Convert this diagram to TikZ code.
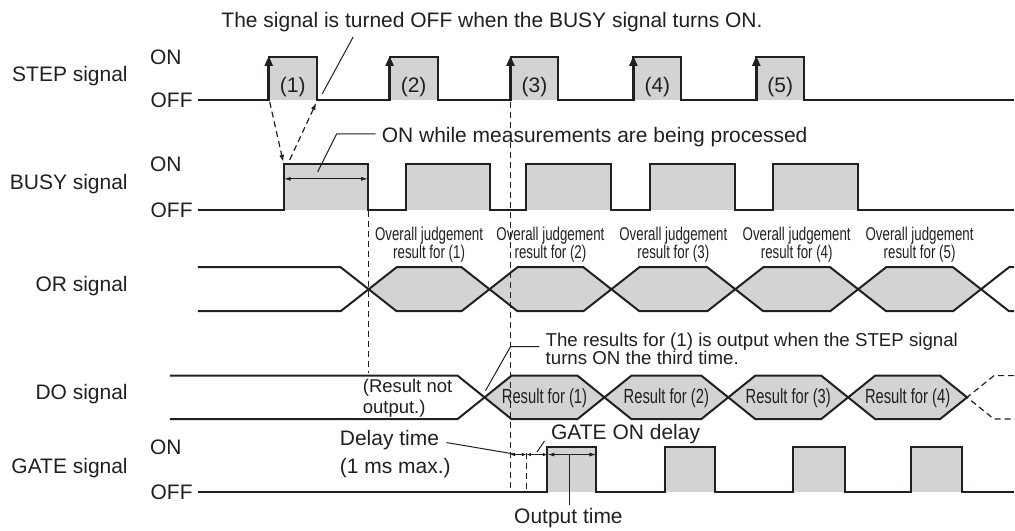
\documentclass[tikz,border=0pt]{standalone}
\usepackage{fontspec}
\setmainfont{Liberation Sans}
\newfontfamily\narrowfont[FakeStretch=0.72]{Liberation Sans}
\usetikzlibrary{arrows.meta}
\definecolor{ink}{HTML}{231F20}
\definecolor{pulsegrey}{HTML}{D1D3D4}

\begin{document}
\begin{tikzpicture}[x=1pt,y=-1pt,
		every node/.style={text=ink,inner sep=0pt},
		lbl/.style={font=\fontsize{21}{23}\selectfont},
		note/.style={font=\fontsize{18.7}{18}\selectfont,align=left},
		orlbl/.style={font=\narrowfont\fontsize{18.5}{17.7}\selectfont,align=center},
		dolbl/.style={font=\narrowfont\fontsize{20.5}{20}\selectfont},
		wave/.style={draw=ink,line width=2pt},
		riseedge/.style={draw=ink,line width=3.4pt,-{Triangle[length=10pt,width=8pt]}},
		lead/.style={draw=ink,line width=1pt},
		dim/.style={draw=ink,line width=1pt,{Latex[length=7pt,width=4pt]}-{Latex[length=7pt,width=4pt]}},
		dimsmall/.style={draw=ink,line width=0.8pt,{Latex[length=4.5pt,width=3.5pt]}-{Latex[length=4.5pt,width=3.5pt]}},
		guide/.style={draw=ink,line width=1.2pt,dash pattern=on 6pt off 4pt}]
	\fill[white] (0,0) rectangle (1015,531);
	% signal names
	\node[lbl,anchor=base east] (stepname) at (128,82)    {STEP signal};
	\node[lbl,anchor=base east] (busyname) at (128,190)   {BUSY signal};
	\node[lbl,anchor=base east] (orname)   at (128,291.7) {OR signal};
	\node[lbl,anchor=base east] (doname)   at (128,400)   {DO signal};
	\node[lbl,anchor=base east] (gatename) at (128,474.3) {GATE signal};
	\node[lbl,anchor=west] (stepon)  at (150,57)    {ON};
	\node[lbl,anchor=east] (stepoff) at (193,100)   {OFF};
	\node[lbl,anchor=west] (busyon)  at (150,164.3) {ON};
	\node[lbl,anchor=east] (busyoff) at (193,210)   {OFF};
	\node[lbl,anchor=west] (gateon)  at (150,447.5) {ON};
	\node[lbl,anchor=east] (gateoff) at (193,492.5) {OFF};
	% STEP
	\foreach \r in {269,390,511,634,757}
		\fill[pulsegrey] (\r,100) rectangle ++(48,-43);
	\draw[wave] (198,100) foreach \r in {269,390,511,634,757} { -- (\r,100) -- (\r,57) -- ++(48,0) -- ++(0,43) } -- (1015,100);
	\foreach \r/\n in {269/1,390/2,511/3,634/4,757/5} {
		\draw[riseedge] (\r,101) -- (\r,56);
		\node[lbl] (step\n) at ({\r+24},87) {(\n)};
	}
	\node[lbl,anchor=base west] (stepnote) at (221.5,27.5) {The signal is turned OFF when the BUSY signal turns ON.};
	\draw[lead] (322.5,94) -- (353.5,37);
	\draw[guide,-{Latex[length=7pt,width=5pt]}] (270,102) -- (283.5,162);
	\draw[guide,-{Latex[length=7pt,width=5pt]}] (290,160) -- (316.5,103);
	% BUSY
	\foreach \r in {284,406,527,651,774}
		\fill[pulsegrey] (\r,210) rectangle ++(84.5,-45.7);
	\draw[wave] (198,210) foreach \r in {284,406,527,651,774} { -- (\r,210) -- (\r,164.3) -- ++(84.5,0) -- ++(0,45.7) } -- (1015,210);
	\draw[dim] (284,179) -- (368.5,179);
	\draw[lead] (318,172) -- (337,134) -- (376,134);
	\node[lbl,anchor=base west] (busynote) at (382,143) {ON while measurements are being processed};
	% OR
	\draw[wave] (198,267.5) -- (341,267.5) -- (369,289.5);
	\draw[wave] (198,311.5) -- (341,311.5) -- (369,289.5);
	\foreach \a/\b/\n in {369/490/1,490/612/2,612/736/3,736/859/4,859/982/5} {
		\filldraw[wave,fill=pulsegrey] (\a,289.5) -- ({\a+28},267.5) -- ({\b-28},267.5) -- (\b,289.5) -- ({\b-28},311.5) -- ({\a+28},311.5) -- cycle;
		\node[orlbl] (or\n) at ({(\a+\b)/2},245) {Overall judgement\\result for (\n)};
	}
	\draw[wave] (1015,267.5) -- (1010,267.5) -- (982,289.5) -- (1010,311.5) -- (1015,311.5);
	% DO
	\draw[wave] (170,376) -- (458,376) -- (485,397.75);
	\draw[wave] (170,419.5) -- (458,419.5) -- (485,397.75);
	\foreach \a/\b/\n in {485/605/1,605/729/2,729/849/3,849/968/4} {
		\filldraw[wave,fill=pulsegrey] (\a,397.75) -- ({\a+27},376) -- ({\b-27},376) -- (\b,397.75) -- ({\b-27},419.5) -- ({\a+27},419.5) -- cycle;
		\node[dolbl] (do\n) at ({(\a+\b)/2},399) {Result for (\n)};
	}
	\draw[guide] (1015,376) -- (995,376) -- (968,397.75) -- (995,419.5) -- (1015,419.5);
	\node[font=\fontsize{18.5}{21}\selectfont,align=left,anchor=west] (noout) at (363,399) {(Result not\\output.)};
	\node[note,anchor=west] (donote) at (546,349) {The results for (1) is output when the STEP signal\\turns ON the third time.};
	\draw[lead] (486,391) -- (511,347) -- (540,347);
	% GATE
	\foreach \r/\f in {548/597,666/716,794/846,912/963}
		\fill[pulsegrey] (\r,492.5) rectangle (\f,447.5);
	\draw[wave] (198,492.5) foreach \r/\f in {548/597,666/716,794/846,912/963} { -- (\r,492.5) -- (\r,447.5) -- (\f,447.5) -- (\f,492.5) } -- (1015,492.5);
	% timing guides
	\draw[guide] (369,211) -- (369,373);
	\draw[guide] (511,102) -- (511,492.5);
	\draw[guide] (527,453) -- (527,492.5);
	\draw[dimsmall] (511,455) -- (527,455);
	\draw[dimsmall] (527,455) -- (548,455);
	\draw[dim] (548,455) -- (597,455);
	\node[font=\fontsize{21}{28}\selectfont,align=left,anchor=north west] (delay) at (340,430.5) {Delay time\\(1 ms max.)};
	\draw[lead] (447,443) -- (515,454.5);
	\node[lbl,anchor=base west] (gatedelay) at (551.5,440) {GATE ON delay};
	\draw[lead] (545,441.5) -- (537.5,452.5);
	\draw[lead] (570,455) -- (570,505);
	\node[lbl,anchor=base] (outtime) at (569,524.5) {Output time};
\end{tikzpicture}
\end{document}
